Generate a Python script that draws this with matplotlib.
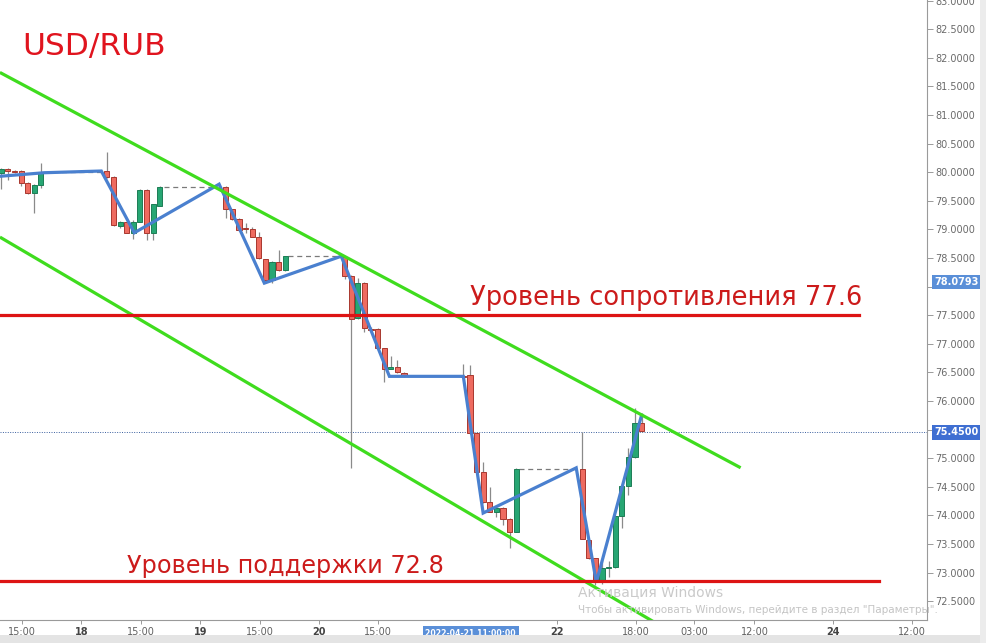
import matplotlib.pyplot as plt
from matplotlib.patches import Rectangle

# свечи: номер бара, открытие, закрытие, максимум, минимум
slots = [0, 1, 2, 3, 4, 5, 6,
         16, 17, 18, 19, 20, 21, 22, 23, 24,
         34, 35, 36, 37, 38, 39, 40, 41, 42, 43,
         52, 53, 54, 55, 56, 57, 58, 59, 60, 61,
         70, 71, 72, 73, 74, 75, 76, 77, 78,
         88, 89, 90, 91, 92, 93, 94, 95, 96, 97]
opens = [79.98, 80.05, 80.01, 80.02, 79.81, 79.63, 79.77,
         80.02, 79.91, 79.06, 79.13, 78.94, 79.13, 79.69, 78.94, 79.41,
         79.74, 79.35, 79.18, 79.02, 79.01, 78.87, 78.48, 78.11, 78.43, 78.29,
         78.52, 78.18, 77.45, 78.06, 77.26, 77.26, 76.92, 76.56, 76.59, 76.49,
         76.43, 76.45, 75.44, 74.76, 74.23, 74.06, 74.13, 73.94, 73.71,
         74.81, 73.57, 73.25, 72.87, 73.08, 73.10, 73.99, 74.51, 75.02, 75.61]
closes = [80.05, 80.02, 80.00, 79.81, 79.63, 79.77, 80.00,
          79.91, 79.08, 79.13, 78.94, 79.13, 79.69, 78.94, 79.44, 79.74,
          79.35, 79.18, 78.99, 79.01, 78.87, 78.50, 78.11, 78.43, 78.29, 78.53,
          78.18, 77.43, 78.06, 77.27, 77.24, 76.92, 76.56, 76.59, 76.50, 76.43,
          76.42, 75.44, 74.76, 74.23, 74.06, 74.13, 73.94, 73.71, 74.81,
          73.59, 73.25, 72.83, 73.08, 73.09, 73.99, 74.51, 75.02, 75.61, 75.47]
highs = [80.07, 80.07, 80.04, 80.04, 79.83, 79.80, 80.16,
         80.35, 79.93, 79.14, 79.15, 79.16, 79.70, 79.70, 79.45, 79.75,
         79.76, 79.36, 79.19, 79.11, 79.04, 78.95, 78.49, 78.44, 78.64, 78.54,
         78.53, 78.20, 78.15, 78.08, 77.30, 77.27, 76.93, 76.78, 76.71, 76.50,
         76.65, 76.63, 75.45, 74.93, 74.49, 74.14, 74.15, 73.95, 74.82,
         75.46, 73.58, 73.26, 73.22, 73.20, 74.00, 74.52, 75.18, 75.88, 75.79]
lows = [79.70, 79.86, 79.98, 79.76, 79.62, 79.28, 79.72,
        79.90, 79.06, 79.02, 78.93, 78.83, 79.12, 78.81, 78.81, 79.40,
        79.20, 79.16, 78.97, 78.94, 78.86, 78.49, 78.09, 78.06, 78.28, 78.28,
        78.13, 74.83, 77.44, 77.20, 77.22, 76.90, 76.33, 76.55, 76.49, 76.42,
        76.41, 75.43, 74.70, 74.22, 74.05, 73.97, 73.83, 73.43, 73.70,
        73.58, 73.24, 72.78, 72.80, 72.92, 73.08, 73.78, 74.36, 75.01, 75.46]

# зигзаг
zz_x = [0, 6.5, 15.15, 20.15, 33.0, 39.85, 51.5, 58.8, 70, 73.0, 87.1, 90.15, 97]
zz_y = [79.93, 79.99, 80.02, 78.94, 79.79, 78.06, 78.53, 76.43, 76.43, 74.04, 74.83, 72.83, 75.75]

# пунктирные уровни
dash_x0 = [6.5, 24.6, 43.5, 78.5]
dash_x1 = [15.15, 32.9, 51.5, 87.1]
dash_y = [80.01, 79.74, 78.53, 74.81]

# канал
upper_x = [0, 111.8]
upper_y = [81.73, 74.845]
lower_x = [0, 105]
lower_y = [78.85, 71.72]

resistance = 77.50
support = 72.85
last_price = 75.45
marker_price = 78.0793

tick_pos = [3.18, 12.12, 21.2, 30.15, 39.24, 48.18, 57.12, 84.24, 96.2, 105, 114.1, 126.06, 138.03]
tick_lbl = ['15:00', '18', '15:00', '19', '15:00', '20', '15:00', '22', '18:00', '03:00', '12:00', '24', '12:00']
price_ticks = [72.5 + 0.5 * i for i in range(22)]

fig = plt.figure(figsize=(9.86, 6.43), dpi=100)
fig.patches.append(Rectangle((0, 0), 980 / 986, 8 / 643, transform=fig.transFigure,
                             facecolor='#e4e4e4', edgecolor='none'))
fig.patches.append(Rectangle((980 / 986, 0), 6 / 986, 1, transform=fig.transFigure,
                             facecolor='#ececec', edgecolor='none'))
ax = fig.add_axes([0, 23 / 643, 927 / 986, 620 / 643])

# свечи
for s, o, c, h, l in zip(slots, opens, closes, highs, lows):
    up = c >= o
    fc = '#27a673' if up else '#ee6b60'
    ec = '#1d7d55' if up else '#a8382f'
    ax.vlines(s, l, h, color='#8a8a8a', lw=0.9, zorder=2)
    ax.bar(s, abs(c - o) if abs(c - o) > 0.02 else 0.02, bottom=min(o, c), width=0.78,
           color=fc, edgecolor=ec, linewidth=0.7, zorder=3)

for x0, x1, y in zip(dash_x0, dash_x1, dash_y):
    ax.plot([x0, x1], [y, y], color='#7a7a7a', lw=0.9, ls=(0, (4, 3)), zorder=2)

ax.plot(zz_x, zz_y, color='#4a80cf', lw=2.3, zorder=4, solid_joinstyle='miter')

ax.plot(upper_x, upper_y, color='#3fdc1e', lw=2.3, zorder=5)
ax.plot(lower_x, lower_y, color='#3fdc1e', lw=2.3, zorder=5)

ax.plot([-1, 130], [resistance, resistance], color='#dd1414', lw=2.3, zorder=5)
ax.plot([-1, 133], [support, support], color='#dd1414', lw=2.3, zorder=5)

ax.axhline(last_price, color='#3a5f9f', lw=0.7, ls=(0, (1, 1.5)), zorder=1)

ax.set_xlim(-0.2, 140.25)
ax.set_ylim(72.17, 83.01)

ax.spines['top'].set_visible(False)
ax.spines['left'].set_visible(False)
ax.spines['right'].set_color('#9a9a9a')
ax.spines['bottom'].set_color('#9a9a9a')
ax.yaxis.tick_right()
ax.set_yticks(price_ticks)
# подписи 78.0 и 75.5 закрыты ярлыками цен
ax.set_yticklabels(['' if v in (78.0, 75.5) else '%.4f' % v for v in price_ticks])
ax.tick_params(axis='y', direction='out', length=4, width=0.7, colors='#9a9a9a',
               labelcolor='#6a6a6a', labelsize=7, pad=2)
ax.set_xticks(tick_pos)
ax.set_xticklabels(tick_lbl)
ax.tick_params(axis='x', direction='out', length=3, width=0.7, colors='#9a9a9a',
               labelcolor='#606060', labelsize=7, pad=2)
for t in ax.get_xticklabels():
    if ':' not in t.get_text():
        t.set_fontweight('bold')
        t.set_color('#444444')

# ярлыки цен справа
ax.text(1.0 + 7 / 927, marker_price, '78.0793', transform=ax.get_yaxis_transform(),
        ha='left', va='center', fontsize=7, color='white', fontweight='bold',
        bbox=dict(boxstyle='square,pad=0.25', facecolor='#5a8fd8', edgecolor='none'), zorder=10)
ax.text(1.0 + 7 / 927, last_price, '75.4500', transform=ax.get_yaxis_transform(),
        ha='left', va='center', fontsize=7, color='white', fontweight='bold',
        bbox=dict(boxstyle='square,pad=0.25', facecolor='#3f6fd2', edgecolor='none'), zorder=10)
ax.text(71.1, -0.014, '2022-04-21 11:00:00', transform=ax.get_xaxis_transform(),
        ha='center', va='top', fontsize=5.6, color='white', fontweight='bold',
        bbox=dict(boxstyle='square,pad=0.35', facecolor='#5a8fd8', edgecolor='none'), zorder=10)

fig.text(22 / 986, 1 - 46 / 643, 'USD/RUB', fontsize=22.5, color='#e0141e', va='center', ha='left')
fig.text(470 / 986, 1 - 298 / 643, 'Уровень сопротивления 77.6', fontsize=18.5,
         color='#cc1b1b', va='center', ha='left')
fig.text(127 / 986, 1 - 566 / 643, 'Уровень поддержки 72.8', fontsize=17.3,
         color='#cc1b1b', va='center', ha='left')

fig.text(578 / 986, 1 - 592 / 643, 'Активация Windows', fontsize=10, color='#cacaca',
         va='center', ha='left')
fig.text(578 / 986, 1 - 610 / 643, 'Чтобы активировать Windows, перейдите в раздел "Параметры".',
         fontsize=7.5, color='#c4c4c4', va='center', ha='left')

fig.savefig('out.png', dpi=100)
